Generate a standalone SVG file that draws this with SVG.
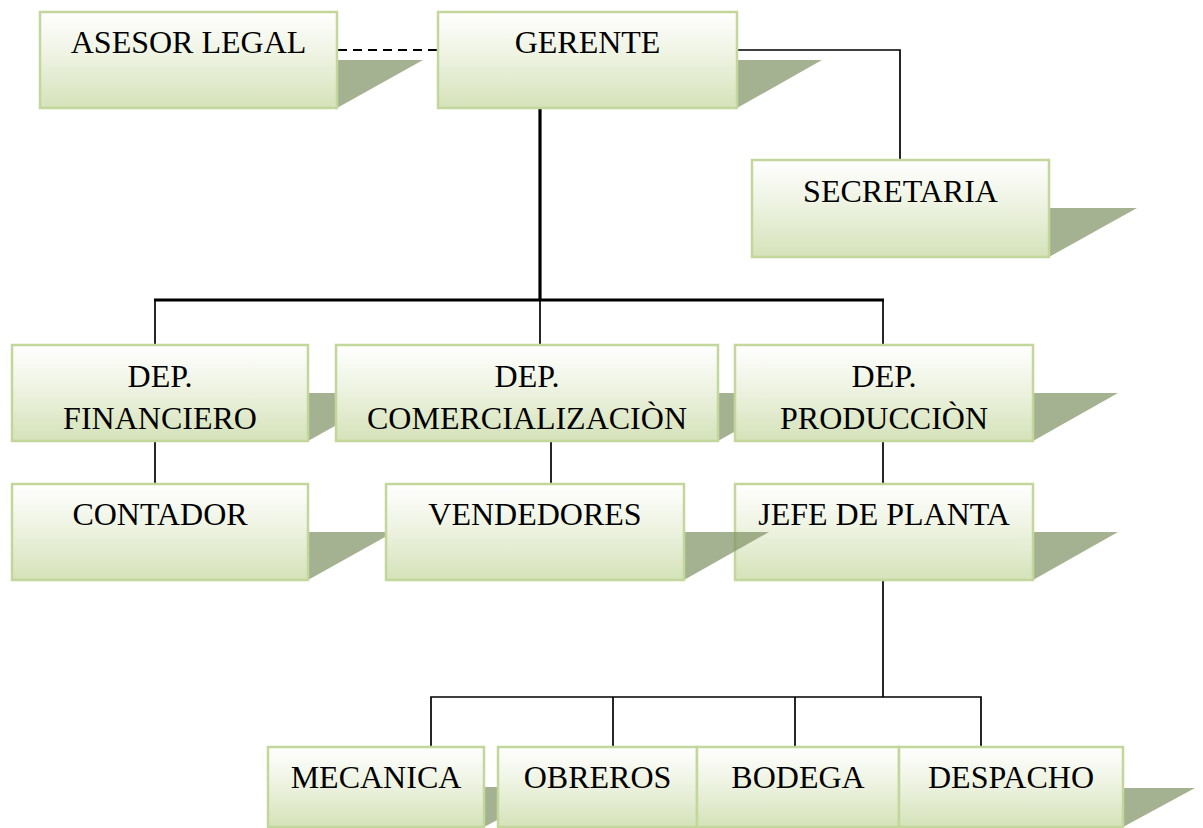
<svg xmlns="http://www.w3.org/2000/svg" width="1203" height="828" viewBox="0 0 1203 828">
<defs>
<linearGradient id="g" x1="0" y1="0" x2="0" y2="1">
<stop offset="0" stop-color="#ffffff"/>
<stop offset="0.45" stop-color="#eef3e2"/>
<stop offset="1" stop-color="#d5e2b9"/>
</linearGradient>
</defs>
<style>
.box{fill:url(#g);stroke:#c3d69b;stroke-width:2.5}
.sh{fill:#7f9164;fill-opacity:0.7}
.t{font-family:"Liberation Serif","Times New Roman",serif;font-size:32px;fill:#000;text-anchor:middle}
.thin{stroke:#000;stroke-width:1.7;fill:none}
.thick{stroke:#000;stroke-width:3.2;fill:none}
.dash{stroke:#000;stroke-width:2;stroke-dasharray:9,6;fill:none}
</style>
<rect width="1203" height="828" fill="#fff"/>
<g id="connectors">
<line class="dash" x1="338" y1="50" x2="438" y2="50"/>
<polyline class="thin" points="737,50 900,50 900,160"/>
<line class="thick" x1="540" y1="108" x2="540" y2="300"/>
<line class="thick" x1="154" y1="300" x2="884" y2="300"/>
<line class="thin" x1="155" y1="300" x2="155" y2="345"/>
<line class="thin" x1="540" y1="300" x2="540" y2="345"/>
<line class="thin" x1="883" y1="300" x2="883" y2="345"/>
<line class="thin" x1="155" y1="441" x2="155" y2="484"/>
<line class="thin" x1="551" y1="441" x2="551" y2="484"/>
<line class="thin" x1="883" y1="441" x2="883" y2="484"/>
<line class="thin" x1="883" y1="580" x2="883" y2="697"/>
<polyline class="thin" points="431,747 431,697 981,697 981,747"/>
<line class="thin" x1="613" y1="697" x2="613" y2="747"/>
<line class="thin" x1="795" y1="697" x2="795" y2="747"/>
</g>
<g id="asesor">
<polygon class="sh" points="337,60 423,60 337,108"/>
<rect class="box" x="40" y="12" width="297" height="96"/>
<text class="t" x="188.5" y="53">ASESOR LEGAL</text>
</g>
<g id="gerente">
<polygon class="sh" points="737,60 822,60 737,108"/>
<rect class="box" x="438" y="12" width="299" height="96"/>
<text class="t" x="587.5" y="53">GERENTE</text>
</g>
<g id="secretaria">
<polygon class="sh" points="1049,208 1137,208 1049,257"/>
<rect class="box" x="752" y="160" width="297" height="97"/>
<text class="t" x="900.5" y="202">SECRETARIA</text>
</g>
<g id="financiero">
<polygon class="sh" points="308,393 394,393 308,441"/>
<rect class="box" x="12" y="345" width="296" height="96"/>
<text class="t" x="160" y="387">DEP.</text>
<text class="t" x="160" y="429">FINANCIERO</text>
</g>
<g id="comercializacion">
<polygon class="sh" points="718,393 804,393 718,441"/>
<rect class="box" x="336" y="345" width="382" height="96"/>
<text class="t" x="527" y="387">DEP.</text>
<text class="t" x="527" y="429">COMERCIALIZACIÒN</text>
</g>
<g id="produccion">
<polygon class="sh" points="1033,393 1118,393 1033,441"/>
<rect class="box" x="735" y="345" width="298" height="96"/>
<text class="t" x="884" y="387">DEP.</text>
<text class="t" x="884" y="429">PRODUCCIÒN</text>
</g>
<g id="contador">
<polygon class="sh" points="308,532 394,532 308,580"/>
<rect class="box" x="12" y="484" width="296" height="96"/>
<text class="t" x="160" y="525">CONTADOR</text>
</g>
<g id="jefe">
<polygon class="sh" points="1033,532 1118,532 1033,580"/>
<rect class="box" x="735" y="484" width="298" height="96"/>
<text class="t" x="884" y="525">JEFE DE PLANTA</text>
</g>
<g id="vendedores">
<polygon class="sh" points="684,532 769,532 684,580"/>
<rect class="box" x="386" y="484" width="298" height="96"/>
<text class="t" x="535" y="525">VENDEDORES</text>
</g>
<g id="mecanica">
<polygon class="sh" points="484,787 560,787 484,827"/>
<rect class="box" x="268" y="747" width="216" height="80"/>
<text class="t" x="376" y="788">MECANICA</text>
</g>
<g id="obreros">
<rect class="box" x="498" y="747" width="199" height="80"/>
<text class="t" x="597.5" y="788">OBREROS</text>
</g>
<g id="bodega">
<rect class="box" x="697" y="747" width="202" height="80"/>
<text class="t" x="798" y="788">BODEGA</text>
</g>
<g id="despacho">
<polygon class="sh" points="1123,788 1195,788 1123,827"/>
<rect class="box" x="899" y="747" width="224" height="80"/>
<text class="t" x="1011" y="788">DESPACHO</text>
</g>
</svg>
